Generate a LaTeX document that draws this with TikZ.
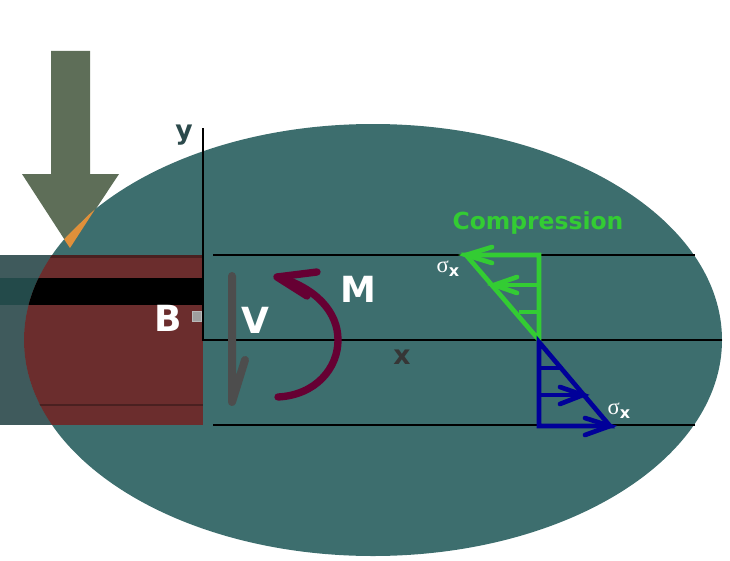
\documentclass[tikz,border=0pt]{standalone}
\usepackage{fontspec}
\setmainfont{DejaVu Sans}
\newfontfamily\sigfont{Liberation Serif}
\usetikzlibrary{arrows.meta}
\definecolor{tealbg}{HTML}{3D6E6E}
\definecolor{beamred}{HTML}{6B2D2D}
\definecolor{beamout}{HTML}{3F5A5C}
\definecolor{bandout}{HTML}{234A4A}
\definecolor{loadc}{HTML}{5E6E58}
\definecolor{orangec}{HTML}{E0903A}
\definecolor{momentc}{HTML}{660033}
\definecolor{shearc}{HTML}{4D4D4D}
\definecolor{compc}{HTML}{33CC33}
\definecolor{tensc}{HTML}{000099}
\definecolor{darkred}{HTML}{4A2020}
\definecolor{ylabc}{HTML}{2C4A4C}
\tikzset{
  guide/.style={black,line width=1.5pt},
  lab/.style={font=\bfseries,text=white,inner sep=0pt},
  comp/.style={compc,line width=3.5pt},
  tens/.style={tensc,line width=3.5pt},
  sig/.style={text=white,inner sep=0pt}
}
\newcommand{\sigx}{{\sigfont\fontsize{17}{17}\selectfont σ}\raisebox{-3pt}{\fontsize{12}{12}\selectfont\bfseries x}}
\begin{document}
\begin{tikzpicture}[x=0.75pt,y=-0.75pt]
\useasboundingbox (0,0) rectangle (730,560);
% load arrow
\fill[loadc] (51,51) -- (90,51) -- (90,174) -- (119,174) -- (70,248) -- (22,174) -- (51,174) -- cycle;
% beam outside the ellipse
\fill[beamout] (0,255) rectangle (203,425);
\fill[bandout] (0,278) rectangle (203,305);
% ellipse
\fill[tealbg] (373,340) ellipse [x radius=349, y radius=216];
% parts inside the ellipse
\begin{scope}
\clip (373,340) ellipse [x radius=349, y radius=216];
\fill[beamred] (0,255) rectangle (203,425);
\fill[black] (0,278) rectangle (203,305);
\fill[darkred] (0,255) rectangle (203,258);
\fill[darkred] (0,404) rectangle (203,406);
\fill[orangec] (96.5,207) -- (70,248) -- (64,239) -- cycle;
\end{scope}
% guide lines
\coordinate (ytop) at (203,128);
\coordinate (origin) at (203,340);
\coordinate (xend) at (722,340);
\draw[guide] (ytop) -- (origin) -- (xend);
\coordinate (t1) at (213,255); \coordinate (t2) at (695,255);
\coordinate (b1) at (213,425); \coordinate (b2) at (695,425);
\draw[guide] (t1) -- (t2);
\draw[guide] (b1) -- (b2);
% labels
\node[inner sep=0pt,text=ylabc,font=\bfseries\fontsize{20}{20}\selectfont] (ylab) at (184,135) {y};
\node[inner sep=0pt,text=shearc!70!black,font=\bfseries\fontsize{20}{20}\selectfont] (xlab) at (402,357) {x};
\node[lab,font=\bfseries\fontsize{27}{27}\selectfont] (blab) at (168,318) {B};
\node[lab,font=\bfseries\fontsize{27}{27}\selectfont] (vlab) at (255,320) {V};
\node[lab,font=\bfseries\fontsize{27}{27}\selectfont] (mlab) at (358,289) {M};
\fill[gray!75,draw=gray!55,line width=0.5pt] (192,311) rectangle (201,321);
% shear arrow
\draw[shearc,line width=6pt,line cap=round,line join=round] (232,276) -- (232,402) -- (245,360);
% moment arrow
\draw[momentc,line width=5.5pt,line cap=round,line join=round] (278,397) .. controls (316,395) and (338,368) .. (338,340) .. controls (338,312) and (316,288) .. (278,277);
\draw[momentc,line width=5.5pt,line cap=round,line join=round] (317,272) -- (277,277) -- (307,296);
% compression
\coordinate (ct) at (466,255); \coordinate (cc) at (539,340); \coordinate (cr) at (539,255);
\draw[comp,line join=miter] (ct) -- (cr) -- (cc) -- cycle;
\draw[comp] (492,285) -- (539,285);
\draw[comp] (519,312) -- (539,312);
\draw[comp,line cap=round] (492,247) -- (466,255) -- (492,263);
\draw[comp,line cap=round] (517,277) -- (494,285) -- (517,293);
% tension
\coordinate (bt) at (539,342); \coordinate (bb) at (539,426); \coordinate (br) at (610,426);
\draw[tens,line join=miter] (bt) -- (bb) -- (br) -- cycle;
\draw[tens] (539,368) -- (561,368);
\draw[tens] (539,395) -- (583,395);
\draw[tens,line cap=round] (560,387) -- (583,395) -- (560,404);
\draw[tens,line cap=round] (585,418) -- (610,426) -- (585,435);
% stress labels
\node[sig] (s1) at (448,269) {\sigx};
\node[sig] (s2) at (619,411) {\sigx};
\node[inner sep=0pt,text=compc,font=\bfseries\fontsize{17.6}{17.6}\selectfont] (clab) at (538,223) {Compression};
\end{tikzpicture}
\end{document}
